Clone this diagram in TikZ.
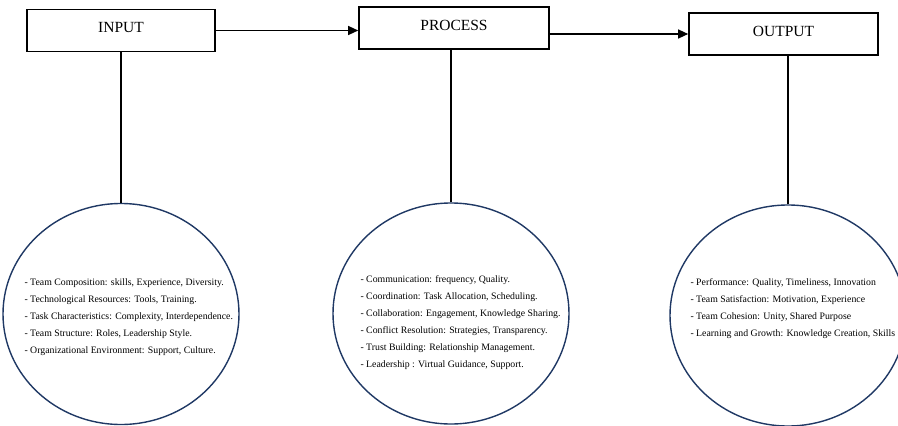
\documentclass[tikz,border=0pt]{standalone}
\usepackage{fontspec}
\setmainfont{Liberation Serif}
\usetikzlibrary{arrows.meta,positioning,shapes.geometric}
\definecolor{navy}{RGB}{31,56,100}

\tikzset{
  stagebox/.style={draw,line width=1.6pt,minimum height=42pt,text depth=6pt,
    font=\fontsize{15.5}{17}\selectfont},
  bubble/.style={draw=navy,line width=1.4pt,ellipse,minimum width=236pt,minimum height=221pt},
  items/.style={anchor=west,align=left,font=\fontsize{9.8}{17}\selectfont},
  flow/.style={-{Triangle[length=10pt,width=9pt]},line width=1.3pt},
  stem/.style={line width=1.6pt}
}

\begin{document}
\begin{tikzpicture}[x=1pt,y=-1pt]
  \clip (0,0) rectangle (898,426);
  % stages
  \node[stagebox,minimum width=188pt] (input) at (121,30.5) {INPUT};
  \node[stagebox,minimum width=190pt] (process) at (454,28) {PROCESS};
  \node[stagebox,minimum width=189pt] (output) at (783.5,34) {OUTPUT};
  \draw[flow] (input.east) -- (input.east -| process.west);
  \draw[flow] (process.east |- output.west) -- (output.west);
  % detail bubbles
  \node[bubble] (inbub) at (121,314) {};
  \node[bubble] (procbub) at (451,313.5) {};
  \node[bubble] (outbub) at (788,315.5) {};
  \draw[stem] (inbub.north) -- (inbub.north |- input.south);
  \draw[stem] (procbub.north) -- (procbub.north |- process.south);
  \draw[stem] (outbub.north) -- (outbub.north |- output.south);
  \node[items] (inlist) at (21,317.5) {- Team Composition: skills, Experience, Diversity.\\
    - Technological Resources: Tools, Training.\\
    - Task Characteristics: Complexity, Interdependence.\\
    - Team Structure: Roles, Leadership Style.\\
    - Organizational Environment: Support, Culture.};
  \node[items] (proclist) at (357,323) {- Communication: frequency, Quality.\\
    - Coordination: Task Allocation, Scheduling.\\
    - Collaboration: Engagement, Knowledge Sharing.\\
    - Conflict Resolution: Strategies, Transparency.\\
    - Trust Building: Relationship Management.\\
    - Leadership : Virtual Guidance, Support.};
  \node[items] (outlist) at (687,308.5) {- Performance: Quality, Timeliness, Innovation\\
    - Team Satisfaction: Motivation, Experience\\
    - Team Cohesion: Unity, Shared Purpose\\
    - Learning and Growth: Knowledge Creation, Skills};
\end{tikzpicture}
\end{document}
